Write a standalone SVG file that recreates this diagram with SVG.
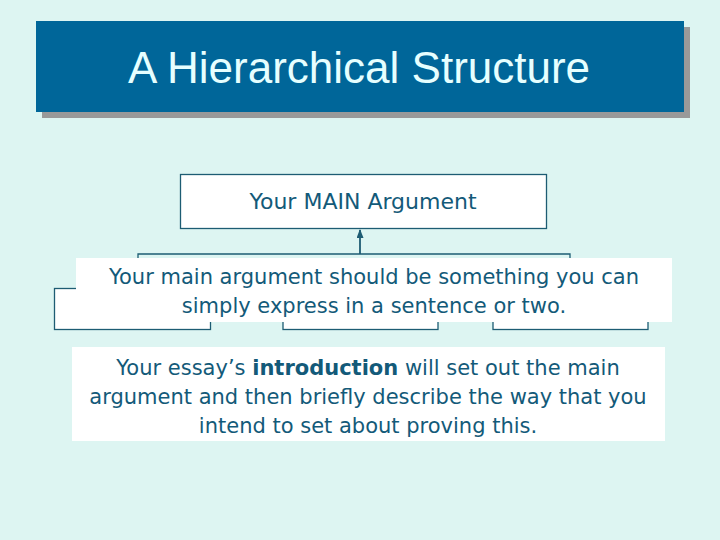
<svg xmlns="http://www.w3.org/2000/svg" width="720" height="540" viewBox="0 0 720 540">
<style>
.body{font-family:"DejaVu Sans",Verdana,sans-serif;font-size:21px;fill:#135a79;text-anchor:middle}
.box{fill:#ffffff;stroke:#1d5c73;stroke-width:1.3}
.conn{fill:none;stroke:#1d5c73;stroke-width:1.3}
</style>
<defs>
<marker id="arr" markerWidth="9" markerHeight="7" refX="8" refY="3.5" orient="auto" markerUnits="userSpaceOnUse" viewBox="0 0 9 7">
<path d="M0,0 L9,3.5 L0,7 Z" fill="#1d5c73"/>
</marker>
</defs>
<rect width="720" height="540" fill="#ddf5f2"/>
<g id="title">
<rect x="42" y="27" width="648" height="91" fill="#999999"/>
<rect x="36" y="21" width="648" height="91" fill="#006699"/>
<text x="359" y="83" style="font-family:'Liberation Sans',Arial,sans-serif;font-size:44px;fill:#e6ffff;text-anchor:middle">A Hierarchical Structure</text>
</g>
<g id="connectors">
<polyline class="conn" points="138,262 138,254 570,254 570,262"/>
<line class="conn" x1="360" y1="254" x2="360" y2="230" style="stroke-width:1.8" marker-end="url(#arr)"/>
</g>
<g id="main">
<rect class="box" x="180.5" y="174.5" width="366" height="54"/>
<text class="body" x="363" y="209" style="font-size:22px">Your MAIN Argument</text>
</g>
<g id="child-left"><rect class="box" x="54.5" y="288.5" width="156" height="41"/></g>
<g id="child-middle"><rect class="box" x="283" y="288.5" width="155" height="41"/></g>
<g id="child-right"><rect class="box" x="493" y="288.5" width="155" height="41"/></g>
<g id="note-main">
<rect x="76" y="258" width="596" height="64" fill="#ffffff"/>
<text class="body" x="374" y="284">Your main argument should be something you can</text>
<text class="body" x="374" y="313">simply express in a sentence or two.</text>
</g>
<g id="note-intro">
<rect x="72" y="347" width="593" height="94" fill="#ffffff"/>
<text class="body" x="368" y="375">Your essay’s <tspan font-weight="bold">introduction</tspan> will set out the main</text>
<text class="body" x="368" y="404">argument and then briefly describe the way that you</text>
<text class="body" x="368" y="433">intend to set about proving this.</text>
</g>
</svg>
